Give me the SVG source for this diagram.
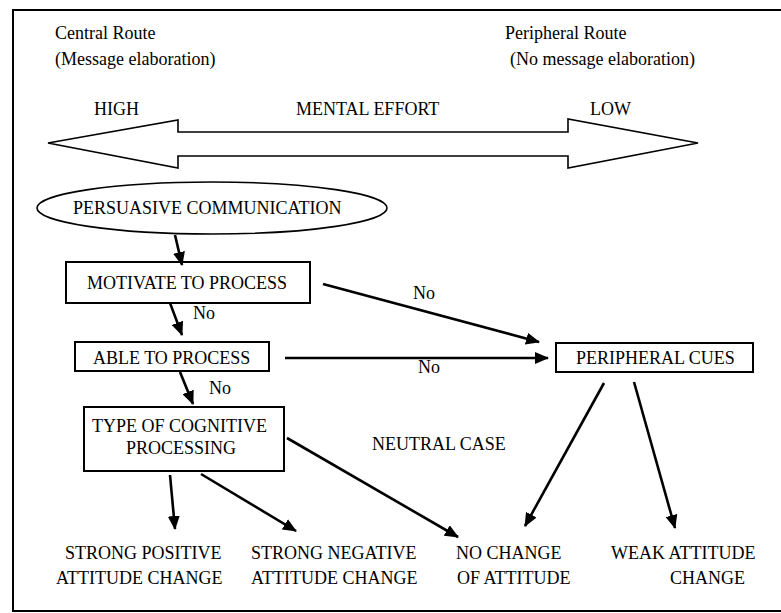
<svg xmlns="http://www.w3.org/2000/svg" width="781" height="613" viewBox="0 0 781 613" font-family="Times New Roman, Liberation Serif, serif" font-size="18">
<defs>
<marker id="ah" markerUnits="userSpaceOnUse" markerWidth="14" markerHeight="12" refX="13" refY="6" orient="auto">
<path d="M0,0 L14,6 L0,12 Z" fill="#000"/>
</marker>
</defs>
<rect x="0" y="0" width="781" height="613" fill="#fff"/>
<rect x="13" y="10" width="790" height="601" fill="none" stroke="#000" stroke-width="2"/>

<g id="labels">
<text x="55" y="39">Central Route</text>
<text x="55" y="65">(Message elaboration)</text>
<text x="505" y="39">Peripheral Route</text>
<text x="510" y="65">(No message elaboration)</text>
<text x="94" y="115">HIGH</text>
<text x="296" y="115">MENTAL EFFORT</text>
<text x="590" y="115">LOW</text>
<text x="372" y="450">NEUTRAL CASE</text>
</g>

<g id="effort-arrow">
<path d="M48,143 L178,120 L178,132 L568,132 L568,119 L698,143 L568,168 L568,156 L178,156 L178,168 Z" fill="#fff" stroke="#000" stroke-width="1.6"/>
</g>

<g id="persuasive">
<ellipse cx="212" cy="208" rx="175" ry="26" fill="#fff" stroke="#000" stroke-width="1.6"/>
<text x="73" y="214">PERSUASIVE COMMUNICATION</text>
</g>

<g id="motivate">
<rect x="66" y="262" width="244" height="41" fill="#fff" stroke="#000" stroke-width="2"/>
<text x="87" y="289">MOTIVATE TO PROCESS</text>
</g>

<g id="able">
<rect x="75" y="342" width="194" height="29" fill="#fff" stroke="#000" stroke-width="2"/>
<text x="93" y="364">ABLE TO PROCESS</text>
</g>

<g id="type">
<rect x="84" y="407" width="200" height="64" fill="#fff" stroke="#000" stroke-width="2"/>
<text x="92" y="432">TYPE OF COGNITIVE</text>
<text x="126" y="454">PROCESSING</text>
</g>

<g id="peripheral">
<rect x="556" y="343" width="197" height="29" fill="#fff" stroke="#000" stroke-width="2"/>
<text x="576" y="364">PERIPHERAL CUES</text>
</g>

<g id="strong-positive">
<text x="65" y="559">STRONG POSITIVE</text>
<text x="56" y="584">ATTITUDE CHANGE</text>
</g>
<g id="strong-negative">
<text x="251" y="559">STRONG NEGATIVE</text>
<text x="251" y="584">ATTITUDE CHANGE</text>
</g>
<g id="no-change">
<text x="456" y="559">NO CHANGE</text>
<text x="457" y="584">OF ATTITUDE</text>
</g>
<g id="weak">
<text x="611" y="559">WEAK ATTITUDE</text>
<text x="670" y="584">CHANGE</text>
</g>

<g id="connectors" stroke="#000" stroke-width="2.6" marker-end="url(#ah)">
<line x1="175" y1="235" x2="182" y2="265"/>
<line x1="170" y1="303" x2="182" y2="335"/>
<line x1="180" y1="372" x2="193" y2="404"/>
<line x1="323" y1="284" x2="539" y2="342"/>
<line x1="285" y1="358" x2="548" y2="358"/>
<line x1="604" y1="383" x2="525" y2="526"/>
<line x1="634" y1="382" x2="675" y2="528"/>
<line x1="170" y1="475" x2="175" y2="529"/>
<line x1="201" y1="474" x2="296" y2="531"/>
<line x1="287" y1="438" x2="458" y2="537"/>
</g>

<g id="connector-labels">
<text x="193" y="319">No</text>
<text x="209" y="394">No</text>
<text x="413" y="299">No</text>
<text x="418" y="373">No</text>
</g>
</svg>
